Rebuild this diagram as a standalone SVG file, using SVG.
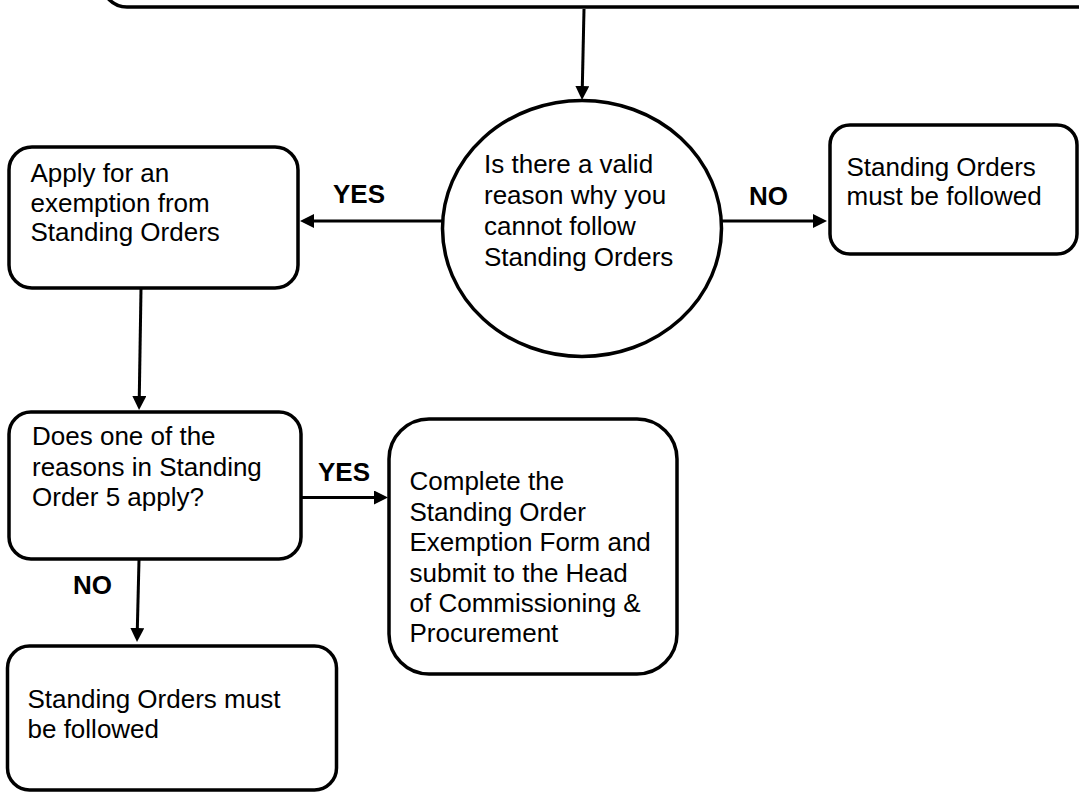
<svg xmlns="http://www.w3.org/2000/svg" width="1079" height="792" viewBox="0 0 1079 792">
  <style>
    .box { fill: #ffffff; stroke: #000000; stroke-width: 3.5; }
    .txt { font-family: "Liberation Sans", Arial, sans-serif; font-size: 26px; fill: #000000; }
    .lbl { font-family: "Liberation Sans", Arial, sans-serif; font-size: 26px; font-weight: bold; fill: #000000; }
    .conn { stroke: #000000; stroke-width: 3; fill: none; }
  </style>
  <defs>
    <marker id="arrow" viewBox="0 0 14 14" refX="6" refY="7" markerWidth="14" markerHeight="14" markerUnits="userSpaceOnUse" orient="auto">
      <path d="M0,0 L14,7 L0,14 z" fill="#000000"/>
    </marker>
  </defs>

  <g id="node-top">
    <rect class="box" x="102" y="-60" width="1020" height="67" rx="25" ry="25"/>
  </g>

  <g id="node-decision">
    <ellipse class="box" cx="582" cy="228.5" rx="139.5" ry="128"/>
    <text class="txt" x="484" y="173">Is there a valid</text>
    <text class="txt" x="484" y="204">reason why you</text>
    <text class="txt" x="484" y="235">cannot follow</text>
    <text class="txt" x="484" y="265.5">Standing Orders</text>
  </g>

  <g id="node-must-follow-right">
    <rect class="box" x="830" y="125" width="247" height="129" rx="20" ry="20"/>
    <text class="txt" x="846.5" y="176">Standing Orders</text>
    <text class="txt" x="846.5" y="205">must be followed</text>
  </g>

  <g id="node-apply">
    <rect class="box" x="9" y="147" width="289" height="141" rx="23" ry="23"/>
    <text class="txt" x="30.5" y="181.5">Apply for an</text>
    <text class="txt" x="30.5" y="211.5">exemption from</text>
    <text class="txt" x="30.5" y="241">Standing Orders</text>
  </g>

  <g id="node-reasons">
    <rect class="box" x="9" y="412" width="292" height="147" rx="22" ry="22"/>
    <text class="txt" x="32" y="445">Does one of the</text>
    <text class="txt" x="32" y="476">reasons in Standing</text>
    <text class="txt" x="32" y="506">Order 5 apply?</text>
  </g>

  <g id="node-complete">
    <rect class="box" x="389" y="419" width="288" height="255" rx="40" ry="40"/>
    <text class="txt" x="409.5" y="490">Complete the</text>
    <text class="txt" x="409.5" y="521">Standing Order</text>
    <text class="txt" x="409.5" y="551">Exemption Form and</text>
    <text class="txt" x="409.5" y="581.5">submit to the Head</text>
    <text class="txt" x="409.5" y="612">of Commissioning &amp;</text>
    <text class="txt" x="409.5" y="642">Procurement</text>
  </g>

  <g id="node-must-follow-bottom">
    <rect class="box" x="7.5" y="646" width="329" height="144" rx="22" ry="22"/>
    <text class="txt" x="27.5" y="708">Standing Orders must</text>
    <text class="txt" x="27.5" y="737.5">be followed</text>
  </g>

  <g id="connectors">
    <line class="conn" x1="584" y1="9" x2="582.2" y2="92" marker-end="url(#arrow)"/>
    <line class="conn" x1="442" y1="221" x2="308" y2="221" marker-end="url(#arrow)"/>
    <line class="conn" x1="722" y1="221" x2="819" y2="221" marker-end="url(#arrow)"/>
    <line class="conn" x1="141" y1="289" x2="139.2" y2="402" marker-end="url(#arrow)"/>
    <line class="conn" x1="301" y1="497.5" x2="380" y2="497.5" marker-end="url(#arrow)"/>
    <line class="conn" x1="139" y1="560" x2="137.2" y2="634" marker-end="url(#arrow)"/>
    <text class="lbl" x="333" y="203">YES</text>
    <text class="lbl" x="749" y="205">NO</text>
    <text class="lbl" x="318" y="481">YES</text>
    <text class="lbl" x="73" y="594">NO</text>
  </g>
</svg>
